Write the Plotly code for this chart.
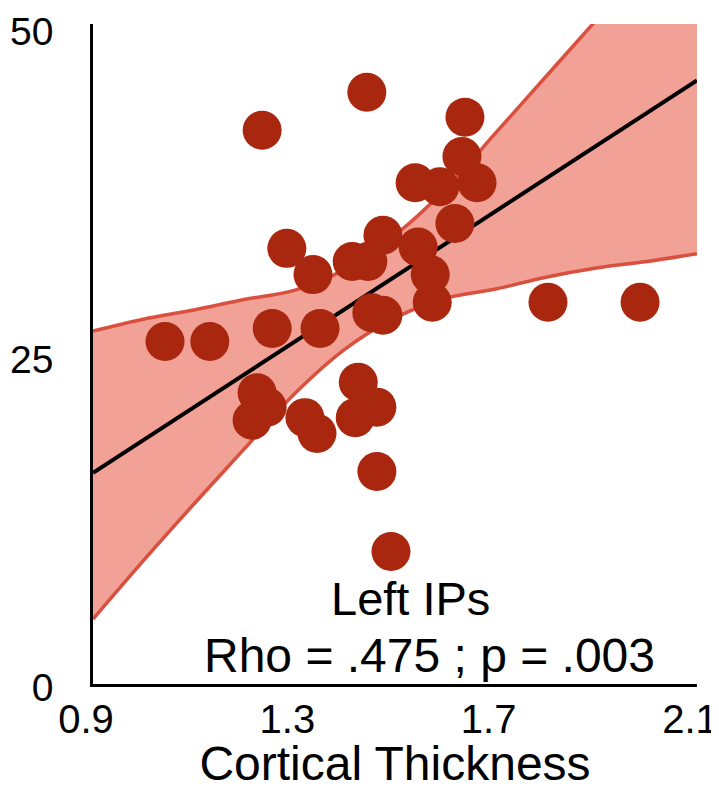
import plotly.graph_objects as go

# Scatter data (cortical thickness vs score)
thickness = [1.043, 1.132, 1.236, 1.256, 1.285, 1.337, 1.351, 1.226, 1.246, 1.216,
             1.321, 1.345, 1.444, 1.415, 1.446, 1.476, 1.454, 1.476, 1.427, 1.464,
             1.421, 1.464, 1.492, 1.540, 1.546, 1.570, 1.574, 1.589, 1.633, 1.639,
             1.619, 1.663, 1.804, 1.987]
score = [26.1, 26.1, 42.2, 27.1, 33.2, 31.2, 27.1, 22.2, 21.1, 20.1,
         20.3, 19.1, 45.1, 32.2, 32.2, 34.2, 28.3, 28.1, 23.0, 21.1,
         20.3, 16.2, 10.1, 38.2, 33.3, 31.2, 29.1, 37.9, 40.2, 43.2,
         35.1, 38.2, 29.1, 29.1]

# Regression line and confidence band
fit_x = [0.9, 2.1]
fit_y = [16.1, 46.0]
band_x = [0.9, 1.0, 1.1, 1.2, 1.3, 1.4, 1.5, 1.6, 1.7, 1.8, 1.9, 2.0, 2.1]
band_upper = [26.9, 27.8, 28.5, 29.3, 30.0, 31.6, 34.2, 37.7, 42.0, 46.3, 50.6, 54.9, 59.3]
band_lower = [4.95, 9.4, 13.7, 17.9, 22.1, 25.5, 27.9, 29.4, 30.1, 31.0, 31.7, 32.2, 32.8]

x_ticks = [0.9, 1.3, 1.7, 2.1]
x_tick_text = ["0.9", "1.3", "1.7", "2.1"]
y_ticks = [0, 25, 50]
y_tick_text = ["0", "25", "50"]

title_lines = ["Left IPs", "Rho = .475 ; p = .003"]
x_title = "Cortical Thickness"

FONT = "Liberation Sans, Arial, Helvetica, sans-serif"
BAND_FILL = "#F1A195"
BAND_LINE = "#D9503F"
DOT = "#A9270F"

fig = go.Figure()
fig.add_trace(go.Scatter(x=band_x, y=band_lower, mode="lines",
                         line=dict(color=BAND_LINE, width=3.5, shape="spline"),
                         hoverinfo="skip", showlegend=False))
fig.add_trace(go.Scatter(x=band_x, y=band_upper, mode="lines", fill="tonexty",
                         fillcolor=BAND_FILL,
                         line=dict(color=BAND_LINE, width=3.5, shape="spline"),
                         hoverinfo="skip", showlegend=False))
fig.add_trace(go.Scatter(x=fit_x, y=fit_y, mode="lines",
                         line=dict(color="black", width=4),
                         showlegend=False))
fig.add_trace(go.Scatter(x=thickness, y=score, mode="markers",
                         marker=dict(color=DOT, size=39, line=dict(width=0)),
                         cliponaxis=False, showlegend=False))

fig.add_annotation(x=1.530, y=6.55, xref="x", yref="y", text=title_lines[0],
                   showarrow=False, xanchor="center", yanchor="middle",
                   font=dict(family=FONT, size=47, color="black"))
fig.add_annotation(x=1.5695, y=2.2, xref="x", yref="y", text=title_lines[1],
                   showarrow=False, xanchor="center", yanchor="middle",
                   font=dict(family=FONT, size=48, color="black"))

# page body has an 8px margin: figure is 711x782 placed at (8, 8)
fig.update_layout(
    width=711, height=782,
    margin=dict(l=85, r=22, t=16, b=106),
    paper_bgcolor="white", plot_bgcolor="white",
    font=dict(family=FONT, color="black"),
    xaxis=dict(range=[0.8999, 2.1001], tickvals=x_ticks, ticktext=x_tick_text,
               showline=True, linecolor="black", linewidth=2.5,
               showgrid=False, zeroline=False, ticks="",
               ticklabelstandoff=-2, ticklabelshift=-7,
               ticklabeloverflow="allow",
               tickfont=dict(family=FONT, size=40, color="black"),
               title=dict(text=x_title, standoff=27,
                          font=dict(family=FONT, size=48, color="black")),
               automargin=False),
    yaxis=dict(range=[0, 50.3], tickvals=y_ticks, ticktext=y_tick_text,
               showline=True, linecolor="black", linewidth=2.5,
               showgrid=False, zeroline=False, ticks="",
               ticklabelstandoff=29, ticklabelshift=3,
               ticklabeloverflow="allow",
               tickfont=dict(family=FONT, size=39, color="black"),
               automargin=False),
)

fig.write_html("out.html")
